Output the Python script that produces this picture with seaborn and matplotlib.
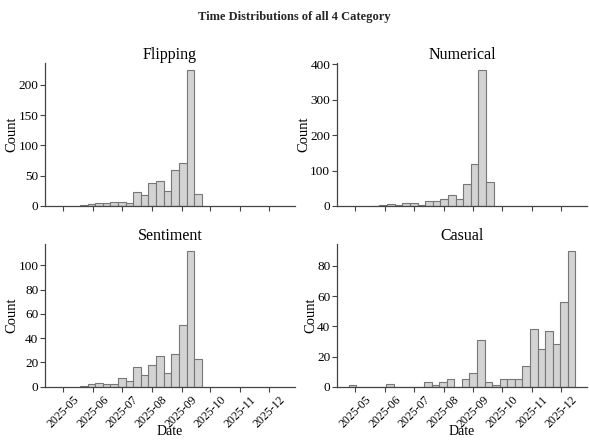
import numpy as np
import pandas as pd
import matplotlib
matplotlib.use("Agg")
import matplotlib.pyplot as plt
import matplotlib.dates as mdates
import matplotlib.ticker as mticker
import seaborn as sns

# ---- data (weekly-ish bin counts) ----
categories = ["Flipping", "Numerical", "Sentiment", "Casual"]

flipping_counts = [1, 3, 5, 5, 7, 7, 5, 23, 18, 38, 41, 25, 60, 71, 225, 20]
numerical_counts = [1, 3, 6, 3, 8, 8, 3, 15, 15, 20, 32, 20, 62, 119, 384, 67]
sentiment_counts = [1, 2, 3, 2, 2, 7, 5, 16, 10, 18, 25, 11, 27, 51, 112, 23]
casual_counts = [1, 0, 0, 0, 0, 2, 0, 0, 0, 0, 3, 1, 3, 5, 0, 5, 9, 31, 3, 1,
                 5, 5, 5, 14, 38, 25, 37, 28, 56, 90]

bin_starts = ["2025-05-18 08:00", "2025-05-18 08:00", "2025-05-18 08:00", "2025-04-24 02:00"]
bin_widths_days = [7.91, 7.91, 7.91, 7.86]

counts_list = [flipping_counts, numerical_counts, sentiment_counts, casual_counts]
y_tick_steps = [50, 100, 20, 20]

sns.set_theme(style="white")
plt.rcParams["font.family"] = ["Liberation Serif", "DejaVu Serif"]

fig, axes = plt.subplots(2, 2, figsize=(5.89, 4.41), dpi=100, sharex=True)
fig.subplots_adjust(left=0.077, right=0.996, top=0.857, bottom=0.123,
                    wspace=0.17, hspace=0.265)

for ax, name, counts, start, width, step in zip(axes.flat, categories, counts_list,
                                                bin_starts, bin_widths_days, y_tick_steps):
    n = len(counts)
    t0 = pd.Timestamp(start)
    edges = [t0 + pd.Timedelta(days=width * i) for i in range(n + 1)]
    centers = [t0 + pd.Timedelta(days=width * (i + 0.5)) for i in range(n)]
    df = pd.DataFrame({"Date": centers, "Count": counts})
    bin_edges = [float(v) for v in mdates.date2num(edges)]
    sns.histplot(data=df, x="Date", weights="Count",
                 bins=bin_edges, ax=ax,
                 color="#d3d3d3", edgecolor="#777777", linewidth=0.8, alpha=1.0)
    ax.set_title(name, fontsize=11.5, pad=3, color="black")
    ax.set_xlabel("Date", fontsize=10, labelpad=0, color="black")
    ax.set_ylabel("Count", fontsize=10.5, labelpad=0, color="black")
    ax.yaxis.set_major_locator(mticker.MultipleLocator(step))
    ax.tick_params(axis="both", labelsize=9.5, length=3.5, width=0.8,
                   bottom=True, left=True, pad=1.5, color="#444444",
                   labelcolor="black")
    sns.despine(ax=ax)
    for s in ax.spines.values():
        s.set_color("#444444")
        s.set_linewidth(0.9)

axes[0, 0].set_ylim(top=236)

locator = mdates.MonthLocator()
for ax in axes.flat:
    ax.xaxis.set_major_locator(locator)
    ax.xaxis.set_major_formatter(mdates.DateFormatter("%Y-%m"))
for ax in axes[1]:
    ax.tick_params(axis="x", labelsize=8.5, pad=1.5)
    ax.set_xlabel("Date", fontsize=10, labelpad=-4, color="black")
    for lab in ax.get_xticklabels():
        lab.set_rotation(45)
        lab.set_ha("center")

fig.suptitle("Time Distributions of all 4 Category", fontsize=9,
             fontweight="bold", y=0.975)

fig.savefig("out.png", dpi=100)
